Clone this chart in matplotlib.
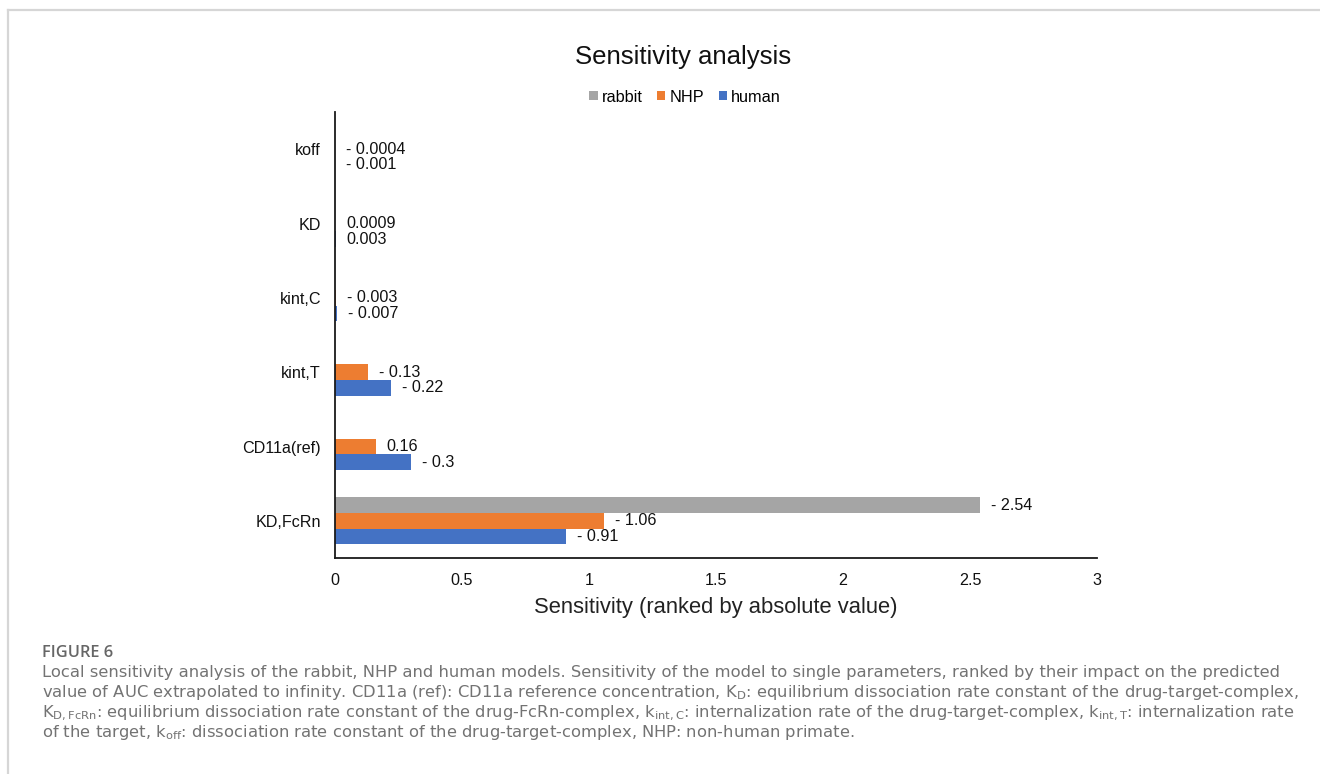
import numpy as np
import matplotlib
matplotlib.use("Agg")
import matplotlib.pyplot as plt
from matplotlib.lines import Line2D

# ---------------- data ----------------
params = ["KD,FcRn", "CD11a(ref)", "kint,T", "kint,C", "KD", "koff"]  # bottom -> top
series_names = ["rabbit", "NHP", "human"]
rabbit = [-2.54, np.nan, np.nan, np.nan, np.nan, np.nan]
nhp = [-1.06, 0.16, -0.13, -0.003, 0.0009, -0.0004]
human = [-0.91, -0.3, -0.22, -0.007, 0.003, -0.001]
colors = ["#A5A5A5", "#ED7D31", "#4472C4"]
xticks = [0, 0.5, 1, 1.5, 2, 2.5, 3]

title = "Sensitivity analysis"
xlabel = "Sensitivity (ranked by absolute value)"
fig_label = "FIGURE 6"
caption_lines = [
    "Local sensitivity analysis of the rabbit, NHP and human models. Sensitivity of the model to single parameters, ranked by their impact on the predicted",
    "value of AUC extrapolated to infinity. CD11a (ref): CD11a reference concentration, K$_{\\mathregular{D}}$: equilibrium dissociation rate constant of the drug-target-complex,",
    "K$_{\\mathregular{D,FcRn}}$: equilibrium dissociation rate constant of the drug-FcRn-complex, k$_{\\mathregular{int,C}}$: internalization rate of the drug-target-complex, k$_{\\mathregular{int,T}}$: internalization rate",
    "of the target, k$_{\\mathregular{off}}$: dissociation rate constant of the drug-target-complex, NHP: non-human primate.",
]

# ---------------- figure ----------------
W, H = 1320, 774
fig = plt.figure(figsize=(W / 100, H / 100), dpi=100)
plt.rcParams["font.family"] = ["Liberation Sans", "DejaVu Sans"]

# border of the figure panel
bc = "#d6d6d6"
fig.add_artist(Line2D([8 / W, 8 / W], [0, 1 - 10 / H], transform=fig.transFigure, color=bc, lw=1.6))
fig.add_artist(Line2D([8 / W, 1], [1 - 10 / H, 1 - 10 / H], transform=fig.transFigure, color=bc, lw=1.6))

ax_left, ax_right, ax_bottom, ax_top = 335 / W, 1097 / W, 1 - 558 / H, 1 - 112 / H
ax = fig.add_axes([ax_left, ax_bottom, ax_right - ax_left, ax_top - ax_bottom])

y = np.arange(len(params))
bh = 0.211
offsets = [bh, 0.0, -bh]
all_series = [rabbit, nhp, human]
for name, vals, col, off in zip(series_names, all_series, colors, offsets):
    vals = np.array(vals, dtype=float)
    mask = ~np.isnan(vals)
    ax.barh(y[mask] + off, np.abs(vals[mask]), height=bh, color=col, label=name, zorder=2)
    for yi, v in zip(y[mask], vals[mask]):
        lab = f"- {abs(v):g}" if v < 0 else f"{v:g}"
        ax.annotate(lab, xy=(abs(v), yi + off), xytext=(8, 0), textcoords="offset points",
                    va="center", ha="left", fontsize=11.6, color="#111111")

ax.set_xlim(0, 3)
ax.set_ylim(-0.5, len(params) - 0.5)
ax.set_xticks(xticks)
ax.set_xticklabels([f"{t:g}" for t in xticks], fontsize=11.6, color="#111111")
ax.set_yticks(y)
ax.set_yticklabels(params, fontsize=11.6, color="#111111")
ax.tick_params(axis="both", length=0)
ax.tick_params(axis="y", pad=10)
ax.tick_params(axis="x", pad=11)
for s in ["top", "right"]:
    ax.spines[s].set_visible(False)
for s in ["left", "bottom"]:
    ax.spines[s].set_color("#1a1a1a")
    ax.spines[s].set_linewidth(1.3)
ax.set_xlabel(xlabel, fontsize=15.8, color="#222222", labelpad=6)

fig.text(683 / W, 1 - 57 / H, title, ha="center", va="center", fontsize=18.5, color="#111111")

handles, labels = ax.get_legend_handles_labels()
fig.legend(handles, labels, loc="center", bbox_to_anchor=(685 / W, 1 - 97 / H), ncol=3,
           frameon=False, fontsize=11.7, handlelength=0.5, handleheight=0.5,
           handletextpad=0.25, columnspacing=0.9, borderaxespad=0)

# caption
cap_font = ["DejaVu Sans"]
cap_color = "#737373"
cap_texts = []
for i, line in enumerate(caption_lines):
    t = fig.text(42 / W, 1 - (673 + 20 * i) / H, line, ha="left", va="center", fontsize=10.6,
                 family=cap_font, color=cap_color)
    cap_texts.append(t)

# fit caption size so the second line spans the same width as in the reference
renderer = fig.canvas.get_renderer()
w2 = cap_texts[1].get_window_extent(renderer).width
target = 1302 - 42
fs = 10.6 * target / w2
for t in cap_texts:
    t.set_fontsize(fs)
fig.text(42 / W, 1 - 653 / H, fig_label, ha="left", va="center", fontsize=fs,
         family=["Open Sans", "DejaVu Sans"], weight="semibold", color="#666666")

fig.savefig("out.png", dpi=100)
